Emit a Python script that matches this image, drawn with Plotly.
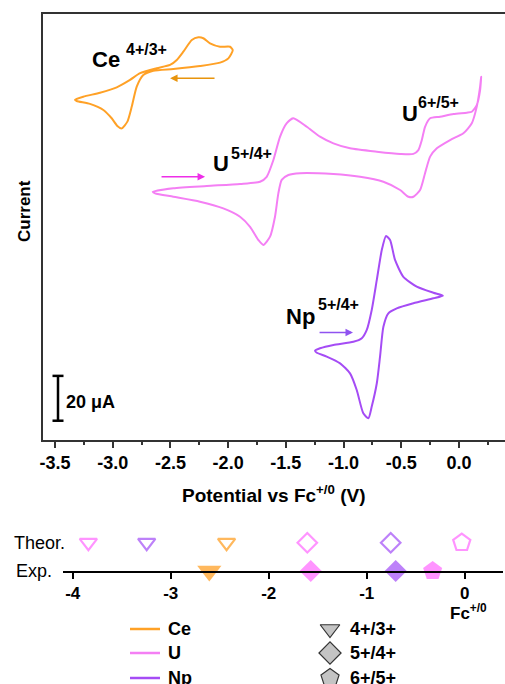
import plotly.graph_objects as go

W, H = 505, 684

# ---------------- data ----------------
# Cyclic voltammograms: potential (V vs Fc+/0) and current (uA, offset for display)
ce_V = [-1.960, -1.998, -2.070, -2.244, -2.475, -2.648, -2.735, -2.792, -2.835, -2.873,
        -2.922, -2.960, -3.009, -3.081, -3.197, -3.312, -3.327, -3.255, -3.110, -2.965,
        -2.850, -2.763, -2.619, -2.503, -2.445, -2.388, -2.315, -2.258, -2.215, -2.157,
        -2.070, -1.983, -1.960]
ce_I = [173.9, 170.2, 168.3, 166.8, 165.5, 164.7, 162.8, 157.6, 148.7, 142.0,
        139.0, 140.1, 143.5, 147.2, 149.9, 151.2, 151.7, 153.1, 154.9, 157.3,
        160.6, 163.6, 165.8, 167.3, 169.5, 173.2, 178.4, 179.6, 179.2, 176.9,
        175.4, 175.4, 173.9]

u_V = [-2.653, -2.475, -2.185, -1.897, -1.724, -1.666, -1.608, -1.550, -1.492, -1.435,
       -1.319, -1.204, -1.088, -0.944, -0.712, -0.510, -0.395, -0.352, -0.322, -0.294,
       -0.250, -0.164, -0.048, 0.068, 0.111, 0.154, 0.183, 0.192,
       0.183, 0.154, 0.111, 0.038, -0.077, -0.192, -0.250, -0.294, -0.337, -0.395,
       -0.438, -0.510, -0.655, -0.857, -1.088, -1.377, -1.478, -1.536, -1.565, -1.594,
       -1.637, -1.695, -1.738, -1.810, -1.897, -2.042, -2.244, -2.475, -2.633, -2.653]
u_I = [110.7, 112.3, 113.3, 114.2, 115.2, 117.4, 124.9, 135.3, 141.3, 143.5,
       139.7, 135.3, 132.3, 130.1, 128.6, 127.6, 127.6, 129.3, 133.8, 139.7,
       143.5, 144.2, 145.4, 146.0, 146.4, 149.4, 156.1, 162.0,
       157.6, 148.7, 141.3, 136.8, 133.8, 130.1, 126.4, 119.0, 111.5, 108.5,
       108.5, 111.5, 115.2, 117.4, 118.6, 119.0, 118.2, 116.0, 110.0, 99.6,
       90.7, 87.0, 89.2, 95.1, 99.6, 103.3, 106.3, 108.5, 110.0, 110.7]

np_V = [-1.247, -1.204, -1.088, -0.915, -0.842, -0.799, -0.756, -0.712, -0.669, -0.632,
        -0.597, -0.554, -0.482, -0.366, -0.222, -0.140, -0.222, -0.395, -0.539, -0.612,
        -0.655, -0.684, -0.712, -0.756, -0.785, -0.829, -0.886, -0.944, -1.030, -1.146,
        -1.232, -1.247]
np_I = [39.8, 40.9, 42.4, 43.8, 45.4, 49.1, 58.0, 71.4, 84.7, 91.0,
        89.2, 80.3, 72.8, 68.4, 65.7, 64.4, 63.2, 61.0, 58.7, 56.5,
        50.5, 37.2, 25.3, 14.9, 9.7, 11.9, 22.3, 29.7, 34.2, 37.2,
        38.9, 39.8]

cv_ticks = [-3.5, -3.0, -2.5, -2.0, -1.5, -1.0, -0.5, 0.0]
cv_ticklabels = ["-3.5", "-3.0", "-2.5", "-2.0", "-1.5", "-1.0", "-0.5", "0.0"]

scale_bar_uA = 20
scale_bar_base = 8.6

# Potential scale (number line)
line_ticks = [-4, -3, -2, -1, 0]
line_ticklabels = ["-4", "-3", "-2", "-1", "0"]

theor_metal = ["U", "Np", "Ce", "U", "Np", "U"]
theor_couple = ["4+/3+", "4+/3+", "4+/3+", "5+/4+", "5+/4+", "6+/5+"]
theor_E = [-3.84, -3.245, -2.43, -1.606, -0.755, -0.03]

exp_metal = ["Ce", "U", "Np", "U"]
exp_couple = ["4+/3+", "5+/4+", "5+/4+", "6+/5+"]
exp_E = [-2.606, -1.571, -0.704, -0.327]

metals = ["Ce", "U", "Np"]
couples = ["4+/3+", "5+/4+", "6+/5+"]

# ---------------- styles ----------------
line_color = {"Ce": "#ffa126", "U": "#f47ff4", "Np": "#a54cf5"}
mark_color = {"Ce": "#ff9a18", "U": "#ff66ff", "Np": "#a14cf6"}
arrow_color = {"Ce": "#e8940c", "U": "#ee2ee8", "Np": "#8f52f0"}
symbol = {"4+/3+": "triangle-down", "5+/4+": "diamond", "6+/5+": "pentagon"}
exp_size = {"4+/3+": 21, "5+/4+": 17, "6+/5+": 20}
theor_size = {"4+/3+": 15, "5+/4+": 15, "6+/5+": 18}
legend_size = {"4+/3+": 17, "5+/4+": 17, "6+/5+": 19}
FONT = "Arial, Liberation Sans, sans-serif"


def px(x):
    return x / W


def py(y):
    return 1 - y / H


fig = go.Figure()

for name, V, I in [("Ce", ce_V, ce_I), ("U", u_V, u_I), ("Np", np_V, np_I)]:
    fig.add_trace(go.Scatter(x=V, y=I, mode="lines", name=name, showlegend=False,
                             line=dict(color=line_color[name], width=2, shape="spline", smoothing=0.6),
                             xaxis="x", yaxis="y", hoverinfo="skip"))

# theoretical (open) and experimental (filled) markers on number line
fig.add_trace(go.Scatter(
    x=theor_E, y=[1] * len(theor_E), mode="markers", showlegend=False, cliponaxis=False,
    marker=dict(symbol=[symbol[c] + "-open" for c in theor_couple],
                size=[theor_size[c] for c in theor_couple],
                color=[mark_color[m] for m in theor_metal], line=dict(width=2.2)),
    xaxis="x2", yaxis="y2"))
fig.add_trace(go.Scatter(
    x=exp_E, y=[0] * len(exp_E), mode="markers", showlegend=False, cliponaxis=False,
    marker=dict(symbol=[symbol[c] for c in exp_couple],
                size=[exp_size[c] for c in exp_couple],
                color=[mark_color[m] for m in exp_metal], line=dict(width=0)),
    xaxis="x2", yaxis="y2"))

# ---- hand-built legend (pixel-space overlay axis) ----
leg_rows = [629, 653, 678]
for m, yrow in zip(metals, leg_rows):
    fig.add_trace(go.Scatter(x=[130, 160], y=[yrow, yrow], mode="lines", showlegend=False,
                             line=dict(color=line_color[m], width=2.5), cliponaxis=False,
                             xaxis="x4", yaxis="y4", hoverinfo="skip"))
for c, yrow in zip(couples, leg_rows):
    fig.add_trace(go.Scatter(x=[330], y=[yrow], mode="markers", showlegend=False,
                             marker=dict(symbol=symbol[c], size=legend_size[c], color="#c4c4c4",
                                         line=dict(color="#333333", width=1.2)),
                             cliponaxis=False, xaxis="x4", yaxis="y4", hoverinfo="skip"))

x_lo, x_hi = -3.5 - 12 / 115.4, 0.0 + 46 / 115.4
y_hi = 426 / 2.242
line_lo = -4 - (72.7 - 63.3) / 98
line_hi = line_lo + (503 - 63.3) / 98

axis_font = dict(family=FONT, size=18, color="black", weight="bold")

fig.update_layout(
    width=W, height=H, margin=dict(l=0, r=0, t=0, b=0, autoexpand=False),
    paper_bgcolor="white", plot_bgcolor="rgba(0,0,0,0)", font=dict(family=FONT, color="black"),
    showlegend=False,
    xaxis=dict(domain=[px(43), 1], range=[x_lo, x_hi], showline=True, linecolor="#333333",
               linewidth=1.5, mirror=True, ticks="outside", ticklen=6, tickwidth=1.5,
               tickcolor="#333333", tickvals=cv_ticks, ticktext=cv_ticklabels,
               tickfont=axis_font, showgrid=False, zeroline=False,
               minor=dict(dtick=0.25, tick0=0, ticks="outside", ticklen=3, tickwidth=1.5,
                          tickcolor="#333333", showgrid=False),
               anchor="y"),
    yaxis=dict(domain=[py(440), py(14)], range=[0, y_hi], showline=True, linecolor="#333333",
               linewidth=1.5, showticklabels=False, ticks="", showgrid=False, zeroline=False,
               anchor="x"),
    xaxis2=dict(domain=[px(63.3), px(503)], range=[line_lo, line_hi], showline=True,
                linecolor="black", linewidth=2, ticks="outside", ticklen=6, tickwidth=2,
                tickcolor="black", tickvals=line_ticks, ticktext=line_ticklabels,
                tickfont=dict(family=FONT, size=17, color="black", weight="bold"),
                showgrid=False, zeroline=False, anchor="y2"),
    xaxis3=dict(overlaying="x2", matches="x2", anchor="y2", side="bottom", ticks="inside",
                ticklen=6, tickwidth=2, tickcolor="black", tickvals=line_ticks,
                showticklabels=False, showline=False, showgrid=False, zeroline=False),
    yaxis2=dict(domain=[py(571), py(542.7)], range=[0, 1], visible=False, anchor="x2"),
    xaxis4=dict(domain=[0, 1], range=[0, W], visible=False, anchor="y4"),
    yaxis4=dict(domain=[0, 1], range=[H, 0], visible=False, anchor="x4"),
)

# scale bar
sb_x = -3.5 + 3 / 115.4
cap = 5.5 / 115.4
for y0, y1, x0, x1 in [(scale_bar_base, scale_bar_base + scale_bar_uA, sb_x, sb_x),
                       (scale_bar_base, scale_bar_base, sb_x - cap, sb_x + cap),
                       (scale_bar_base + scale_bar_uA, scale_bar_base + scale_bar_uA, sb_x - cap, sb_x + cap)]:
    fig.add_shape(type="line", xref="x", yref="y", x0=x0, x1=x1, y0=y0, y1=y1,
                  line=dict(color="black", width=2.5))

ann = []


def text(x, y, t, size, bold=True, xanchor="left", angle=0):
    ann.append(dict(x=px(x), y=py(y), xref="paper", yref="paper", text=t, showarrow=False,
                    xanchor=xanchor, yanchor="middle", textangle=angle,
                    font=dict(family=FONT, size=size, color="black",
                              weight="bold" if bold else "normal")))


text(90, 59, "Ce", 22)
text(124, 49, "4+/3+", 16)
text(211, 164, "U", 22)
text(229, 153, "5+/4+", 16)
text(400, 114, "U", 22)
text(416, 102, "6+/5+", 16)
text(284, 316, "Np", 22)
text(316, 304, "5+/4+", 16)
text(64, 402, "20 \u03bcA", 18)
text(24, 211, "Current", 17, xanchor="center", angle=-90)
text(274, 494, "Potential vs Fc<sup>+/0</sup> (V)", 19, xanchor="center")
text(12, 543, "Theor.", 18, bold=False)
text(14, 571, "Exp.", 18, bold=False)
text(468, 612, "Fc<sup>+/0</sup>", 17, xanchor="center")
for m, yrow in zip(metals, leg_rows):
    text(166, yrow, m, 18)
for c, yrow in zip(couples, leg_rows):
    text(348, yrow, c, 18)

# scan-direction arrows
for m, head, tail, yv in [("Ce", -2.503, -2.105, 161.3), ("U", -2.200, -2.590, 117.4),
                          ("Np", -0.918, -1.221, 47.9)]:
    ann.append(dict(x=head, y=yv, ax=tail, ay=yv, xref="x", yref="y", axref="x", ayref="y",
                    text="", showarrow=True, arrowhead=2, arrowsize=1, arrowwidth=1.5,
                    arrowcolor=arrow_color[m]))

fig.update_layout(annotations=ann)

fig.write_html("out.html", config={"displayModeBar": False},
               post_script="document.body.style.margin='0';")
